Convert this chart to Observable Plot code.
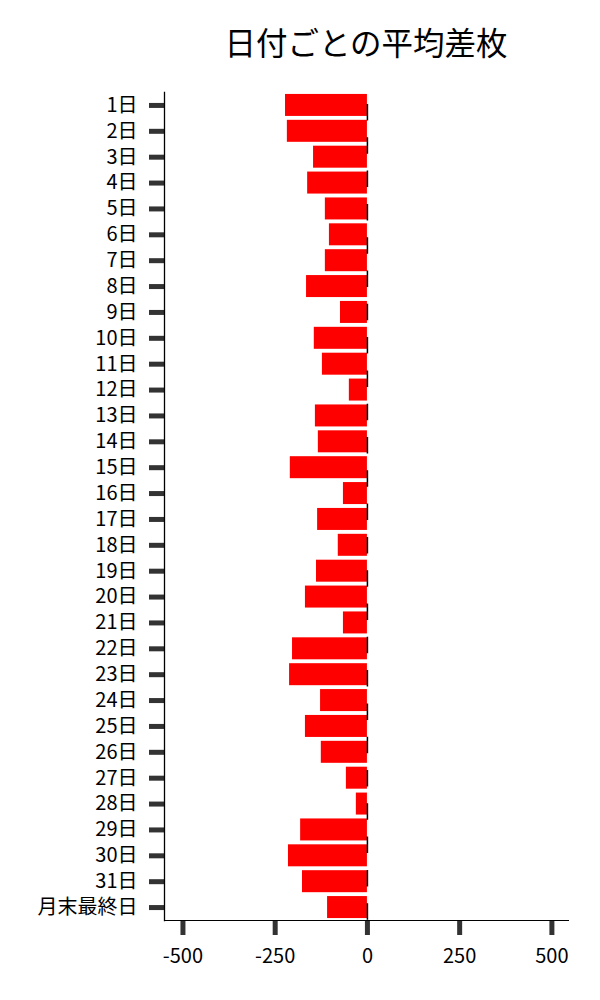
<!DOCTYPE html>
<html><head><meta charset="utf-8">
<script src="https://cdn.jsdelivr.net/npm/d3@7"></script>
<script src="https://cdn.jsdelivr.net/npm/@observablehq/plot@0.6"></script>
<style>
body{margin:0;background:#fff;font-family:"Noto Sans CJK JP",sans-serif;}
#wrap{position:relative;width:600px;height:1000px;}
#title{position:absolute;left:164px;width:404px;top:24px;text-align:center;font-size:31.5px;line-height:34px;color:#000;white-space:nowrap;}
#chart{position:absolute;left:0;top:80px;}
</style></head>
<body><div id="wrap"><div id="title">日付ごとの平均差枚</div><div id="chart"></div></div>
<script>
const days = ["1日","2日","3日","4日","5日","6日","7日","8日","9日","10日","11日","12日","13日","14日","15日","16日","17日","18日","19日","20日","21日","22日","23日","24日","25日","26日","27日","28日","29日","30日","31日","月末最終日"];
const values = [-222,-217,-146,-162,-114,-103,-114,-165,-73,-144,-122,-49,-141,-133,-209,-65,-135,-79,-138,-168,-65,-203,-211,-127,-168,-125,-57,-30,-181,-214,-176,-108];
const xTicks = [-500,-250,0,250,500];
const data = days.map((d,i)=>({day:d, value:values[i]}));
const plot = Plot.plot({
  width:600, height:920, marginTop:12, marginBottom:80, marginLeft:164, marginRight:32,
  style:{fontFamily:'"Noto Sans CJK JP", sans-serif', fontSize:"20px", background:"white", color:"black"},
  x:{domain:[-550,545]},
  y:{domain:days, paddingInner:0.15, paddingOuter:0.075, round:false},
  marks:[
    Plot.barX(data,{y:"day",x:"value",fill:"#ff0000"}),
    Plot.ruleX([0],{stroke:"black",strokeWidth:1.5,strokeDasharray:"16.5,16.8",strokeDashoffset:21.3}),
    Plot.axisY({tickSize:15,tickPadding:12,strokeWidth:5,stroke:"#333",fill:"black",fontSize:20,label:null}),
    Plot.axisX({ticks:xTicks,tickSize:15,tickPadding:13,strokeWidth:5,stroke:"#333",fill:"black",fontSize:20,tickFormat:d=>String(d),label:null}),
    Plot.frame({anchor:"left",stroke:"black",strokeWidth:1.3}),
    Plot.frame({anchor:"bottom",stroke:"black",strokeWidth:1})
  ]
});
const tk = d3.select(plot).selectAll('g[aria-label="y-axis tick"], g[aria-label="x-axis tick"]');
tk.style("stroke-width","5px").style("stroke","#333");
tk.selectAll("path,line").style("stroke-width","5px").style("stroke","#333");
document.getElementById("chart").appendChild(plot);
</script>
</body></html>
